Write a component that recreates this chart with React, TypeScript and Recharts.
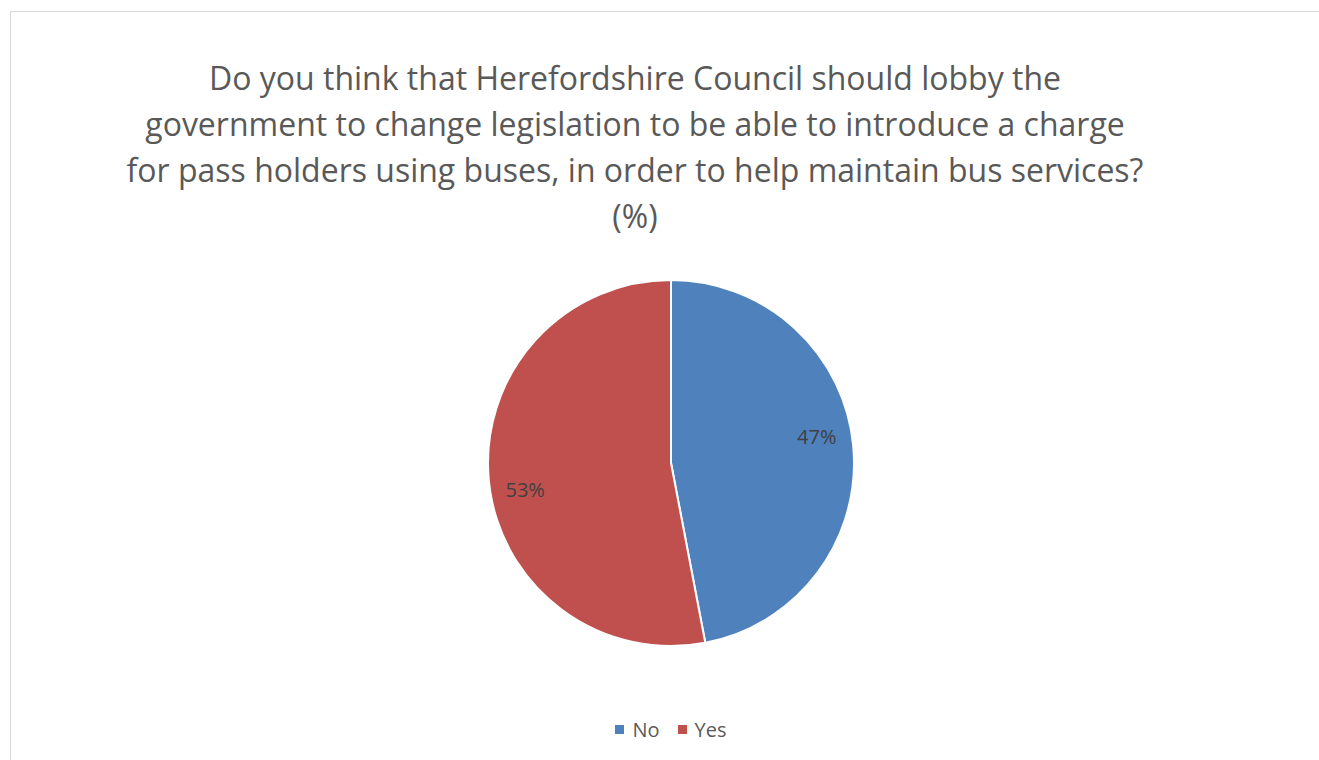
import { PieChart, Pie, Cell, Legend } from 'recharts';

const categories = ['No', 'Yes'];
const values = [47, 53];
const titleLines = [
  'Do you think that Herefordshire Council should lobby the',
  'government to change legislation to be able to introduce a charge',
  'for pass holders using buses, in order to help maintain bus services?',
  '(%)',
];

const COLORS = ['#4f81bd', '#c0504d'];
const FONT = '"Open Sans", "Liberation Sans", sans-serif';

const chartData = categories.map((name, i) => ({ name, value: values[i] }));

const RAD = Math.PI / 180;

function renderLabel(props: any) {
  const { cx, cy, midAngle, outerRadius, percent } = props;
  const r = outerRadius * 0.81;
  const a = midAngle + 5;
  const x = cx + r * Math.cos(-a * RAD);
  const y = cy + r * Math.sin(-a * RAD);
  return (
    <text x={x} y={y} fill="#404040" fontSize={20} fontFamily={FONT} textAnchor="middle" dominantBaseline="central">
      {`${Math.round(percent * 100)}%`}
    </text>
  );
}

function LegendContent() {
  return (
    <div style={{ display: 'flex', justifyContent: 'center', fontFamily: FONT, fontSize: 20, color: '#595959' }}>
      {chartData.map((d, i) => (
        <span key={d.name} style={{ display: 'flex', alignItems: 'center', marginLeft: i ? 18 : 0 }}>
          <span style={{ width: 9, height: 9, background: COLORS[i], display: 'inline-block', marginRight: 8 }} />
          {d.name}
        </span>
      ))}
    </div>
  );
}

export default function App() {
  return (
    <div style={{ position: 'fixed', left: 10, top: 11, width: 1320, height: 760, border: '1px solid #d9d9d9', background: '#fff' }}>
      <div
        style={{
          position: 'absolute',
          top: 43,
          left: 0,
          width: 1248,
          textAlign: 'center',
          fontFamily: FONT,
          fontSize: 32,
          lineHeight: '46px',
          color: '#595959',
        }}
      >
        {titleLines.map((l, i) => (
          <div key={i}>{l}</div>
        ))}
      </div>
      <PieChart width={1320} height={760} margin={{ top: 0, right: 0, bottom: 0, left: 0 }}>
        <Pie
          data={chartData}
          dataKey="value"
          nameKey="name"
          cx={660}
          cy={451}
          outerRadius={183}
          startAngle={90}
          endAngle={-270}
          stroke="#ffffff"
          strokeWidth={2}
          label={renderLabel}
          labelLine={false}
          isAnimationActive={false}
        >
          {chartData.map((d, i) => (
            <Cell key={d.name} fill={COLORS[i]} />
          ))}
        </Pie>
        <Legend
          content={<LegendContent />}
          wrapperStyle={{ position: 'absolute', top: 704, left: 0, width: 1320 }}
        />
      </PieChart>
    </div>
  );
}
